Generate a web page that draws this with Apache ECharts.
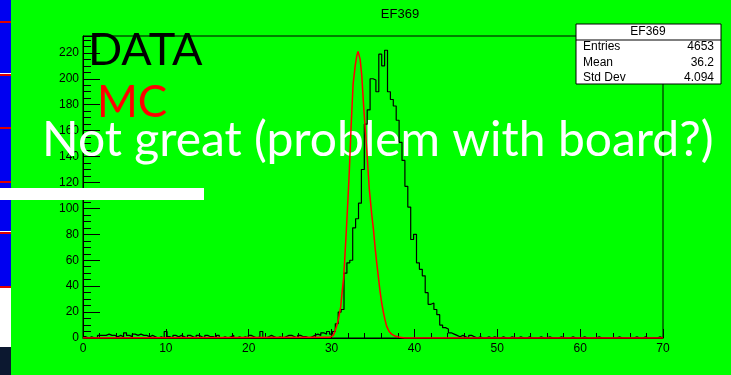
<!DOCTYPE html>
<html>
<head>
<meta charset="utf-8">
<title>EF369</title>
<script src="https://cdn.jsdelivr.net/npm/echarts@6/dist/echarts.min.js"></script>
<style>
  html, body { margin: 0; padding: 0; background: #00ff00; }
  #chart { width: 731px; height: 375px; }
</style>
</head>
<body>
<div id="chart"></div>
<script>
// histogram EF369: 200 bins from 0 to 70
const binLow = 0;
const binWidth = 0.35;
const dataCounts = [
  // bins 0-43
  1,0,1,0,0,2,2,2,3,2, 2,1,2,1,4,2,1,3,2,3, 2,2,1,2,1,0,1,0,5,1,
  0,2,1,2,1,0,2,1,0,2, 1,0,2,1,
  // bins 44-84
  1,0,2,0,1,0,1,2,0,1, 0,1,0,2,1,0,1,5,0,1, 2,1,0,1,0,1,2,2,1,0,
  2,1,1,0,1,2,3,2,4,3, 5,
  // bins 85-129 (peak)
  3,5,11,20,22,50,58,60,85,92, 104,130,165,176,200,199,190,219,210,222,
  190,184,179,168,151,137,117,101,76,80, 58,53,48,35,26,27,22,18,10,8,
  7,4,3,2,1,
  // bins 130-199
  2,1,0,2,1,0,1,0,0,1, 0,1,0,0,1,0,0,1,0,0, 1,0,0,1,0,0,0,1,0,0,
  1,0,0,0,1,0,0,0,1,0, 0,0,1,0,0,0,0,1,0,0, 0,0,0,0,1,0,0,0,0,0,
  1,0,0,1,0,0,0,0,1,0
];

// MC curve (red)
const mcX = [0, 29.8, 30.2, 30.4, 30.65, 30.85, 31.1, 31.25, 31.45, 31.6, 31.8, 32.0, 32.15, 32.35,
  32.6, 32.85, 33.05, 33.2, 33.45, 33.65, 33.9, 34.25, 34.55, 34.85, 35.05, 35.25, 35.45, 35.65,
  35.85, 36.05, 36.25, 36.45, 36.65, 36.95, 37.25, 37.65, 38.25, 38.85, 70];
const mcY = [0, 0.5, 2, 5, 10, 15, 24, 34, 46, 62, 85, 110, 130, 162,
  196, 210, 218, 221, 215, 202, 176, 145, 115, 95, 84, 70, 58, 47,
  36, 27, 20, 14, 9, 5, 3, 1.5, 0.5, 0, 0];

const xTicks = [0, 70, 10];   // min, max, step
const yTicks = [0, 233, 20];

const statsLabels = ['Entries', 'Mean', 'Std Dev'];
const statsValues = ['4653', '36.2', '4.094'];

let histPoints = dataCounts.map((c, i) => [binLow + i * binWidth, c]);
histPoints.push([binLow + dataCounts.length * binWidth, dataCounts[dataCounts.length - 1]]);

const font = 'Liberation Sans, Arial, sans-serif';
const bigFont = 'Lato, sans-serif';

let statsEls = [
  { type: 'rect', shape: { x: 576, y: 24, width: 145, height: 60 },
    style: { fill: '#fff', stroke: '#000', lineWidth: 1 } },
  { type: 'line', shape: { x1: 576, y1: 40, x2: 721, y2: 40 }, style: { stroke: '#000', lineWidth: 1 } },
  { type: 'text', x: 648, y: 32, style: { text: 'EF369', font: '12px ' + font, fill: '#000',
    textAlign: 'center', textVerticalAlign: 'middle' } }
];
statsLabels.forEach((l, i) => {
  statsEls.push({ type: 'text', x: 583, y: 47 + i * 15.5,
    style: { text: l, font: '12px ' + font, fill: '#000', textVerticalAlign: 'middle' } });
  statsEls.push({ type: 'text', x: 714, y: 47 + i * 15.5,
    style: { text: statsValues[i], font: '12px ' + font, fill: '#000', textAlign: 'right', textVerticalAlign: 'middle' } });
});

let myChart = echarts.init(document.getElementById('chart'));
myChart.setOption({
  animation: false,
  backgroundColor: '#00ff00',
  title: {
    text: 'EF369',
    left: 395,
    top: 3,
    textAlign: 'center',
    textStyle: { fontFamily: font, fontSize: 13, fontWeight: 'normal', color: '#000' }
  },
  grid: {
    left: 83, right: 68, top: 36, bottom: 37,
    show: true, borderColor: '#000', borderWidth: 1, backgroundColor: 'transparent'
  },
  xAxis: {
    type: 'value',
    min: xTicks[0], max: xTicks[1], interval: xTicks[2],
    axisLine: { show: true, lineStyle: { color: '#000', width: 1 } },
    axisTick: { inside: true, length: 9, lineStyle: { color: '#000' } },
    minorTick: { show: true, splitNumber: 5, length: 5, lineStyle: { color: '#000' } },
    splitLine: { show: false },
    axisLabel: { color: '#000', fontFamily: font, fontSize: 12, margin: 5 }
  },
  yAxis: {
    type: 'value',
    min: yTicks[0], max: yTicks[1], interval: yTicks[2],
    axisLine: { show: true, lineStyle: { color: '#000', width: 1 } },
    axisTick: { inside: true, length: 17, lineStyle: { color: '#000' } },
    minorTick: { show: true, splitNumber: 4, length: 8, lineStyle: { color: '#000' } },
    splitLine: { show: false },
    axisLabel: { color: '#000', fontFamily: font, fontSize: 12, margin: 4, showMaxLabel: false }
  },
  series: [
    {
      name: 'DATA',
      type: 'line',
      step: 'end',
      data: histPoints,
      symbol: 'none',
      lineStyle: { color: '#000', width: 1.2 },
      z: 3
    },
    {
      name: 'MC',
      type: 'line',
      data: mcX.map((x, i) => [x, mcY[i]]),
      symbol: 'none',
      lineStyle: { color: '#ff0000', width: 1.5 },
      z: 4
    }
  ],
  graphic: [
    // left edge strip
    { type: 'rect', z: 1, shape: { x: 0, y: 0, width: 11, height: 287 }, style: { fill: '#0000f0' } },
    { type: 'rect', z: 1, shape: { x: 0, y: 21, width: 11, height: 2 }, style: { fill: '#e00000' } },
    { type: 'rect', z: 1, shape: { x: 0, y: 73, width: 11, height: 1 }, style: { fill: '#ffffff' } },
    { type: 'rect', z: 1, shape: { x: 0, y: 74, width: 11, height: 2 }, style: { fill: '#e00000' } },
    { type: 'rect', z: 1, shape: { x: 0, y: 127, width: 11, height: 2 }, style: { fill: '#e00000' } },
    { type: 'rect', z: 1, shape: { x: 0, y: 181, width: 11, height: 2 }, style: { fill: '#e00000' } },
    { type: 'rect', z: 1, shape: { x: 0, y: 231, width: 11, height: 1 }, style: { fill: '#ffffff' } },
    { type: 'rect', z: 1, shape: { x: 0, y: 232, width: 11, height: 2 }, style: { fill: '#e00000' } },
    { type: 'rect', z: 1, shape: { x: 0, y: 286, width: 11, height: 2 }, style: { fill: '#e00000' } },
    { type: 'rect', z: 1, shape: { x: 0, y: 288, width: 11, height: 59 }, style: { fill: '#ffffff' } },
    { type: 'rect', z: 1, shape: { x: 0, y: 347, width: 11, height: 28 }, style: { fill: '#0c1830' } },
    // white bar
    { type: 'rect', z: 1, shape: { x: 0, y: 188, width: 204, height: 12 }, style: { fill: '#ffffff' } },
    // overlay texts
    { type: 'text', z: 1, x: 88, y: 50, style: { text: 'DATA', font: '45px ' + bigFont, fill: '#000', textVerticalAlign: 'middle' } },
    { type: 'text', z: 1, x: 97, y: 103, style: { text: 'MC', font: '44px ' + bigFont, fill: '#ff0000', textVerticalAlign: 'middle' } },
    { type: 'text', z: 1, x: 42, y: 141, style: { text: 'Not great (problem with board?)', font: '48px ' + bigFont, fill: '#ffffff', textVerticalAlign: 'middle' } },
    // stats box
    { type: 'group', z: 10, children: statsEls }
  ]
});
</script>
</body>
</html>
